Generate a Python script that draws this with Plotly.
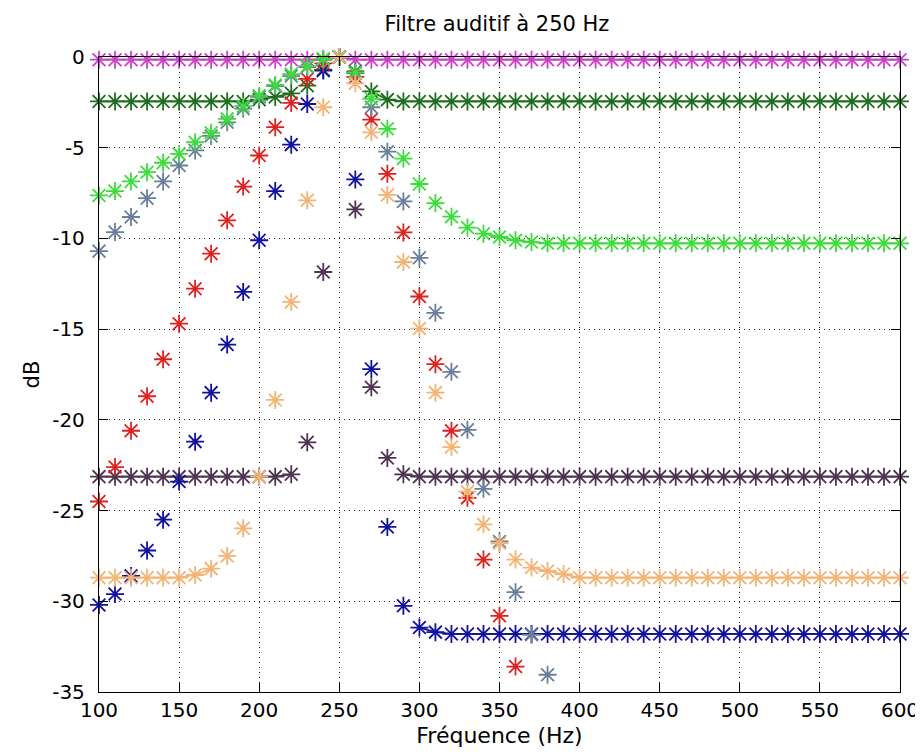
import plotly.graph_objects as go

freq = list(range(100, 601, 10))
N = None

magenta = [-0.15] * 15 + [0.0] + [-0.15] * 35
dark_green = [-2.45] * 10 + [-2.35, -2.2, -2.0, -1.58, -0.7, 0.0, -0.8, -1.9, -2.35] + [-2.45] * 32
light_green = [-7.63, -7.39, -6.86, -6.35, -5.83, -5.34, -4.7, -4.18, -3.41, -2.71,
               -2.13, -1.54, -0.94, -0.5, -0.1, 0.0, -0.85, -2.3, -3.96, -5.6,
               -7.0, -8.05, -8.8, -9.4, -9.74, -9.92, -10.1, -10.2] + [-10.27] * 23
slate = [-10.7, -9.65, -8.82, -7.78, -6.86, -5.98, -5.15, -4.35, -3.6, -2.85,
         -2.2, -1.6, -1.05, -0.55, -0.15, 0.0, -0.9, -2.77, -5.22, -7.96,
         -11.07, -14.1, -17.35, -20.55, -23.8, -26.7, -29.5, -31.85, -34.05] + [N] * 22
red = [-24.5, -22.6, -20.6, -18.7, -16.66, -14.7, -12.77, -10.84, -9.0, -7.14,
       -5.43, -3.87, -2.53, -1.21, -0.35, 0.0, -1.1, -3.45, -6.44, -9.67,
       -13.2, -16.93, -20.6, -24.3, -27.7, -30.8, -33.6] + [N] * 24
blue = [-30.2, -29.6, -28.6, -27.2, -25.5, -23.4, -21.2, -18.5, -15.85, -12.95,
        -10.1, -7.39, -4.83, -2.59, -0.75, 0.0, -6.75, -17.2, -25.9, -30.25,
        -31.45, -31.7] + [-31.8] * 29
tan = [-28.7] * 6 + [-28.55, -28.2, -27.5, -25.98, -23.13, -18.9, -13.5, -7.9, -2.77,
       0.0, -1.45, -4.15, -7.6, -11.3, -14.97, -18.5, -21.5, -23.96, -25.76,
       -26.8, -27.7, -28.14, -28.33, -28.5] + [-28.7] * 21
purple = [-23.13] * 12 + [-23.0, -21.24, -11.85, 0.0, -8.4, -18.2, -22.1, -23.0] + [-23.13] * 31

series = [
    ("magenta", magenta, "#cc40cc"),
    ("dark_green", dark_green, "#1f6e1f"),
    ("purple", purple, "#4e3450"),
    ("blue", blue, "#12129e"),
    ("red", red, "#dd2222"),
    ("slate", slate, "#6a7f99"),
    ("light_green", light_green, "#3cdc3c"),
    ("tan", tan, "#f2b474"),
]

x_ticks = [100, 150, 200, 250, 300, 350, 400, 450, 500, 550, 600]
y_ticks = [0, -5, -10, -15, -20, -25, -30, -35]
y_tick_text = ["0", "-5", "-10", "-15", "-20", "-25", "-30", "-35"]

fig = go.Figure()
for name, vals, col in series:
    floor = vals[-1]
    if floor is not None:
        line_y = [v if (v is not None and v - floor < 0.6) else None for v in vals]
        fig.add_trace(go.Scatter(x=freq, y=line_y, mode="lines", name=name,
                                 line=dict(color=col, width=1.8),
                                 showlegend=False, hoverinfo="skip"))
    fig.add_trace(go.Scatter(x=freq, y=vals, mode="markers", name=name,
                             marker=dict(symbol="asterisk-open", size=15, color=col,
                                         line=dict(color=col, width=1.8)),
                             cliponaxis=False, showlegend=False))

font = "DejaVu Sans, Liberation Sans, Arial, sans-serif"
fig.update_layout(
    width=923, height=756,
    margin=dict(l=91, r=24, t=49, b=72),
    paper_bgcolor="white", plot_bgcolor="white",
    font=dict(family=font, size=20, color="black"),
    title=dict(text="Filtre auditif à 250 Hz", x=489 / 923, xanchor="center",
               xref="container", y=1 - 16 / 756, yanchor="middle", yref="container",
               font=dict(size=21, color="black")),
    showlegend=False,
)
axis_common = dict(showline=True, linecolor="black", linewidth=1.3, mirror="ticks",
                   ticks="inside", ticklen=9, tickwidth=1, tickcolor="black",
                   showgrid=True, gridcolor="#222222", gridwidth=1, griddash="1px,4px",
                   zeroline=False, tickfont=dict(size=20, color="black"))
fig.update_xaxes(range=[100, 600], tickvals=x_ticks,
                 title=dict(text="Fréquence (Hz)", standoff=6, font=dict(size=22)),
                 ticklabelstandoff=0, **axis_common)
fig.update_yaxes(range=[-35, 0], tickvals=y_ticks, ticktext=y_tick_text,
                 title=dict(text="dB", standoff=6, font=dict(size=21)),
                 ticklabelstandoff=9, **axis_common)

fig.write_html("out.html")
